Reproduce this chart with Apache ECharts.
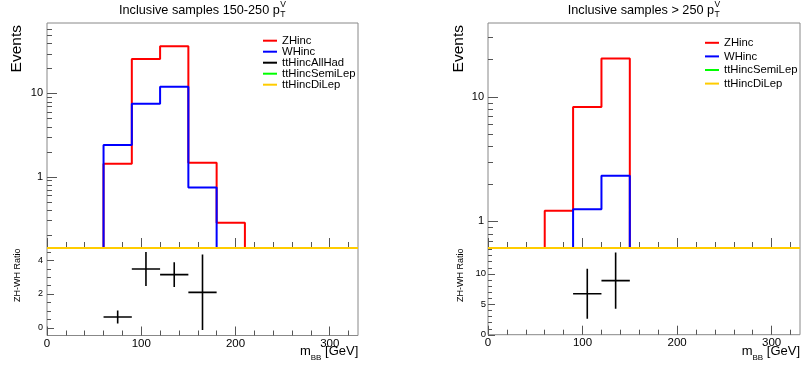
<!DOCTYPE html>
<html>
<head>
<meta charset="utf-8">
<script src="https://cdn.jsdelivr.net/npm/echarts@6/dist/echarts.min.js"></script>
<style>html,body{margin:0;padding:0;background:#fff}#c{width:802px;height:372px}</style>
</head>
<body>
<div id="c"></div>
<script>
// ---------------- data ----------------
const binEdges = [0, 30, 60, 90, 120, 150, 180, 210, 240, 270, 300, 330];
// 150-250 pTV
const zhLow        = [0, 0, 1.43, 26.0, 36.9, 1.47, 0.279, 0, 0, 0, 0];
const whLow        = [0, 0, 2.40, 7.50, 12.0, 0.738, 0, 0, 0, 0, 0];
const ttAllHadLow  = [0, 0, 0, 0, 0, 0, 0, 0, 0, 0, 0];
const ttSemiLepLow = [0, 0, 0, 0, 0, 0, 0, 0, 0, 0, 0];
const ttDiLepLow   = [0, 0, 0, 0, 0, 0, 0, 0, 0, 0, 0];
// > 250 pTV
const zhHigh        = [0, 0, 1.22, 8.27, 20.3, 0, 0, 0, 0, 0, 0];
const whHigh        = [0, 0, 0, 1.25, 2.33, 0, 0, 0, 0, 0, 0];
const ttSemiLepHigh = [0, 0, 0, 0, 0, 0, 0, 0, 0, 0, 0];
const ttDiLepHigh   = [0, 0, 0, 0, 0, 0, 0, 0, 0, 0, 0];
// ZH/WH ratio points
const ratioLowX   = [75, 105, 135, 165];
const ratioLowY   = [0.63, 3.47, 3.14, 2.09];
const ratioLowErr = [0.39, 1.01, 0.73, 2.24];
const ratioHighX   = [105, 135];
const ratioHighY   = [6.7, 8.85];
const ratioHighErr = [4.1, 4.6];
const binHalfWidth = 15;
// ticks
const xMajorTicks = [0, 100, 200, 300];
const xMinorTicks = [20, 40, 60, 80, 120, 140, 160, 180, 220, 240, 260, 280, 320];
const yLogMajor = [1, 10];
const yLogMinorLow = [0.2, 0.3, 0.4, 0.5, 0.6, 0.7, 0.8, 0.9, 2, 3, 4, 5, 6, 7, 8, 9, 20, 30, 40, 50, 60];
const yLogMinorHigh = [0.7, 0.8, 0.9, 2, 3, 4, 5, 6, 7, 8, 9, 20, 30];
const yRatioLowMajor = [0, 2, 4];
const yRatioLowMinor = [0.5, 1, 1.5, 2.5, 3, 3.5, 4.5];
const yRatioHighMajor = [0, 5, 10];
const yRatioHighMinor = [1, 2, 3, 4, 6, 7, 8, 9, 11, 12, 13, 14];
// axis ranges
const yLowRange = [0.1386, 70.3];
const yHighRange = [0.612, 39.1];
const rLowRange = [-0.47, 4.72];
const rHighRange = [0, 14.2];
const xRange = [0, 330];

// ---------------- helpers ----------------
const FONT = '"Liberation Sans", Arial, Helvetica, sans-serif';
const mctx = document.createElement('canvas').getContext('2d');
function tw(t, s) { mctx.font = s + 'px ' + FONT; return mctx.measureText(t).width; }

const COLORS = { ZHinc: '#ff0000', WHinc: '#0000ff', ttHincAllHad: '#000000', ttHincSemiLep: '#00ff00', ttHincDiLep: '#ffcc00' };
const TICK_COLOR = '#555';

function stepData(vals, floor) {
  const d = vals.map((v, i) => [binEdges[i], Math.max(v, floor)]);
  d.push([binEdges[binEdges.length - 1], Math.max(vals[vals.length - 1], floor)]);
  return d;
}
function histSeries(name, vals, g, floor) {
  return {
    type: 'line', name, step: 'end', xAxisIndex: 2 * g, yAxisIndex: g,
    data: stepData(vals, floor), showSymbol: false, symbol: 'none',
    lineStyle: { color: COLORS[name], width: 2 }, itemStyle: { color: COLORS[name] },
    clip: true, silent: true
  };
}
function ratioSeries(xs, ys, es, g) {
  return {
    type: 'custom', name: 'ratio', coordinateSystem: 'cartesian2d', xAxisIndex: 2 * g, yAxisIndex: g,
    data: xs.map((x, i) => [x, ys[i], es[i], binHalfWidth]),
    encode: { x: 0, y: 1 }, clip: true, silent: true,
    renderItem(params, api) {
      const x = api.value(0), y = api.value(1), e = api.value(2), h = api.value(3);
      const l = api.coord([x - h, y]), r = api.coord([x + h, y]);
      const t = api.coord([x, y + e]), b = api.coord([x, y - e]);
      const st = { stroke: '#000', lineWidth: 1.6 };
      return { type: 'group', children: [
        { type: 'line', shape: { x1: l[0], y1: l[1], x2: r[0], y2: r[1] }, style: st },
        { type: 'line', shape: { x1: t[0], y1: t[1], x2: b[0], y2: b[1] }, style: st }
      ] };
    }
  };
}
// y-axis tick marks, placed through the axis scale (api.coord)
function yTickSeries(values, g, len) {
  return {
    type: 'custom', name: 'yticks', coordinateSystem: 'cartesian2d', xAxisIndex: 2 * g, yAxisIndex: g,
    data: values.map(v => [xRange[0], v]), encode: { x: 0, y: 1 }, clip: false, silent: true, z: 5,
    renderItem(params, api) {
      const p = api.coord([api.value(0), api.value(1)]);
      const y = Math.round(p[1]) + 0.5;
      return { type: 'line', shape: { x1: p[0], y1: y, x2: p[0] + len, y2: y }, style: { stroke: TICK_COLOR, lineWidth: 1 } };
    }
  };
}
function mkXAxis(g, ticks, len, labels) {
  return {
    type: 'value', gridIndex: g, min: xRange[0], max: xRange[1], position: 'bottom',
    axisLine: { show: false, onZero: false },
    splitLine: { show: false }, minorTick: { show: false }, minorSplitLine: { show: false },
    axisTick: { show: true, inside: true, length: len, customValues: ticks, lineStyle: { color: TICK_COLOR, width: 1 } },
    axisLabel: labels ? { show: true, customValues: labels, fontSize: 11.5, margin: 2, color: '#000', fontFamily: FONT,
      formatter: v => String(v) } : { show: false },
    axisPointer: { show: false }
  };
}
function mkYAxis(g, type, range, labels, labelSize, margin) {
  const a = {
    type, gridIndex: g, min: range[0], max: range[1], position: 'left',
    axisLine: { show: false, onZero: false },
    splitLine: { show: false }, minorTick: { show: false }, minorSplitLine: { show: false },
    axisTick: { show: false },
    axisLabel: { show: true, customValues: labels, fontSize: labelSize, margin, color: '#000', fontFamily: FONT,
      formatter: v => String(v) },
    axisPointer: { show: false }
  };
  if (type === 'log') a.logBase = 10;
  return a;
}

const grids = [
  { left: 47, top: 23, width: 311, height: 225 },
  { left: 47, top: 248, width: 311, height: 87.5 },
  { left: 488, top: 23, width: 312, height: 225 },
  { left: 488, top: 248, width: 312, height: 86.7 }
].map(g => Object.assign(g, { show: true, borderColor: '#888', borderWidth: 1, backgroundColor: 'transparent', containLabel: false, outerBoundsMode: 'none' }));

const xAxes = [];
for (let g = 0; g < 4; g++) {
  const bottom = g % 2 === 1;
  xAxes.push(mkXAxis(g, xMajorTicks, bottom ? 9 : 10, bottom ? xMajorTicks : null));
  xAxes.push(mkXAxis(g, xMinorTicks, bottom ? 5 : 6, null));
}
const yAxes = [
  mkYAxis(0, 'log', yLowRange, yLogMajor, 11, 4),
  mkYAxis(1, 'value', rLowRange, yRatioLowMajor, 9, 4),
  mkYAxis(2, 'log', yHighRange, yLogMajor, 11, 4),
  mkYAxis(3, 'value', rHighRange, yRatioHighMajor, 9.5, 2)
];

const series = [
  histSeries('ZHinc', zhLow, 0, yLowRange[0]),
  histSeries('WHinc', whLow, 0, yLowRange[0]),
  histSeries('ttHincAllHad', ttAllHadLow, 0, yLowRange[0]),
  histSeries('ttHincSemiLep', ttSemiLepLow, 0, yLowRange[0]),
  histSeries('ttHincDiLep', ttDiLepLow, 0, yLowRange[0]),
  ratioSeries(ratioLowX, ratioLowY, ratioLowErr, 1),
  histSeries('ZHinc', zhHigh, 2, yHighRange[0]),
  histSeries('WHinc', whHigh, 2, yHighRange[0]),
  histSeries('ttHincSemiLep', ttSemiLepHigh, 2, yHighRange[0]),
  histSeries('ttHincDiLep', ttDiLepHigh, 2, yHighRange[0]),
  ratioSeries(ratioHighX, ratioHighY, ratioHighErr, 3),
  yTickSeries(yLogMajor, 0, 10),
  yTickSeries(yLogMinorLow, 0, 5),
  yTickSeries(yRatioLowMajor, 1, 7),
  yTickSeries(yRatioLowMinor, 1, 4),
  yTickSeries(yLogMajor, 2, 10),
  yTickSeries(yLogMinorHigh, 2, 5),
  yTickSeries(yRatioHighMajor, 3, 7),
  yTickSeries(yRatioHighMinor, 3, 4)
];

// ---------------- text graphics ----------------
function txt(text, x, y, size, align, valign, rot) {
  const el = { type: 'text', x, y, z: 100, silent: true,
    style: { text, fill: '#000', font: size + 'px ' + FONT, fontSize: size, fontFamily: FONT,
      align, verticalAlign: valign, textAlign: align, textVerticalAlign: valign } };
  if (rot) el.rotation = rot;
  return el;
}
const graphics = [];
function title(main, cx) {
  const s = 12.7, ss = 8.5;
  const wm = tw(main, s), wv = tw('V', ss);
  const x0 = cx - (wm + wv + 0.5) / 2;
  graphics.push(txt(main, x0, 10.6, s, 'left', 'middle'));
  graphics.push(txt('V', x0 + wm + 0.5, 4.3, ss, 'left', 'middle'));
  graphics.push(txt('T', x0 + wm + 0.5, 14.8, ss, 'left', 'middle'));
}
function xTitle(right) {
  const s = 13, ss = 8;
  const w3 = tw(' [GeV]', s), w2 = tw('BB', ss), w1 = tw('m', s);
  const x3 = right - w3, x2 = x3 - w2, x1 = x2 - w1;
  graphics.push(txt('m', x1, 351, s, 'left', 'middle'));
  graphics.push(txt('BB', x2, 357.6, ss, 'left', 'middle'));
  graphics.push(txt(' [GeV]', x3, 351, s, 'left', 'middle'));
}
title('Inclusive samples 150-250 p', 202.5);
title('Inclusive samples > 250 p', 644);
xTitle(358.3);
xTitle(800);
graphics.push(txt('Events', 16.7, 25, 15.5, 'right', 'middle', Math.PI / 2));
graphics.push(txt('Events', 458.5, 25, 15.5, 'right', 'middle', Math.PI / 2));
graphics.push(txt('ZH-WH Ratio', 17.5, 248.5, 9, 'right', 'middle', Math.PI / 2));
graphics.push(txt('ZH-WH Ratio', 460.8, 248.5, 9, 'right', 'middle', Math.PI / 2));

const legendBase = {
  orient: 'vertical', icon: 'rect', itemWidth: 14, itemHeight: 2, itemGap: 0, padding: 0,
  selectedMode: false, inactiveColor: '#000'
};
const legends = [
  Object.assign({}, legendBase, { left: 263, top: 35.2, data: ['ZHinc', 'WHinc', 'ttHincAllHad', 'ttHincSemiLep', 'ttHincDiLep'],
    textStyle: { fontSize: 11.3, lineHeight: 11, color: '#000', fontFamily: FONT } }),
  Object.assign({}, legendBase, { left: 705, top: 36, data: ['ZHinc', 'WHinc', 'ttHincSemiLep', 'ttHincDiLep'],
    textStyle: { fontSize: 11.3, lineHeight: 13.6, color: '#000', fontFamily: FONT } })
];

const chart = echarts.init(document.getElementById('c'), null, { renderer: 'canvas' });
chart.setOption({
  animation: false,
  backgroundColor: '#fff',
  textStyle: { fontFamily: FONT },
  grid: grids,
  xAxis: xAxes,
  yAxis: yAxes,
  legend: legends,
  series,
  graphic: graphics
});
</script>
</body>
</html>
